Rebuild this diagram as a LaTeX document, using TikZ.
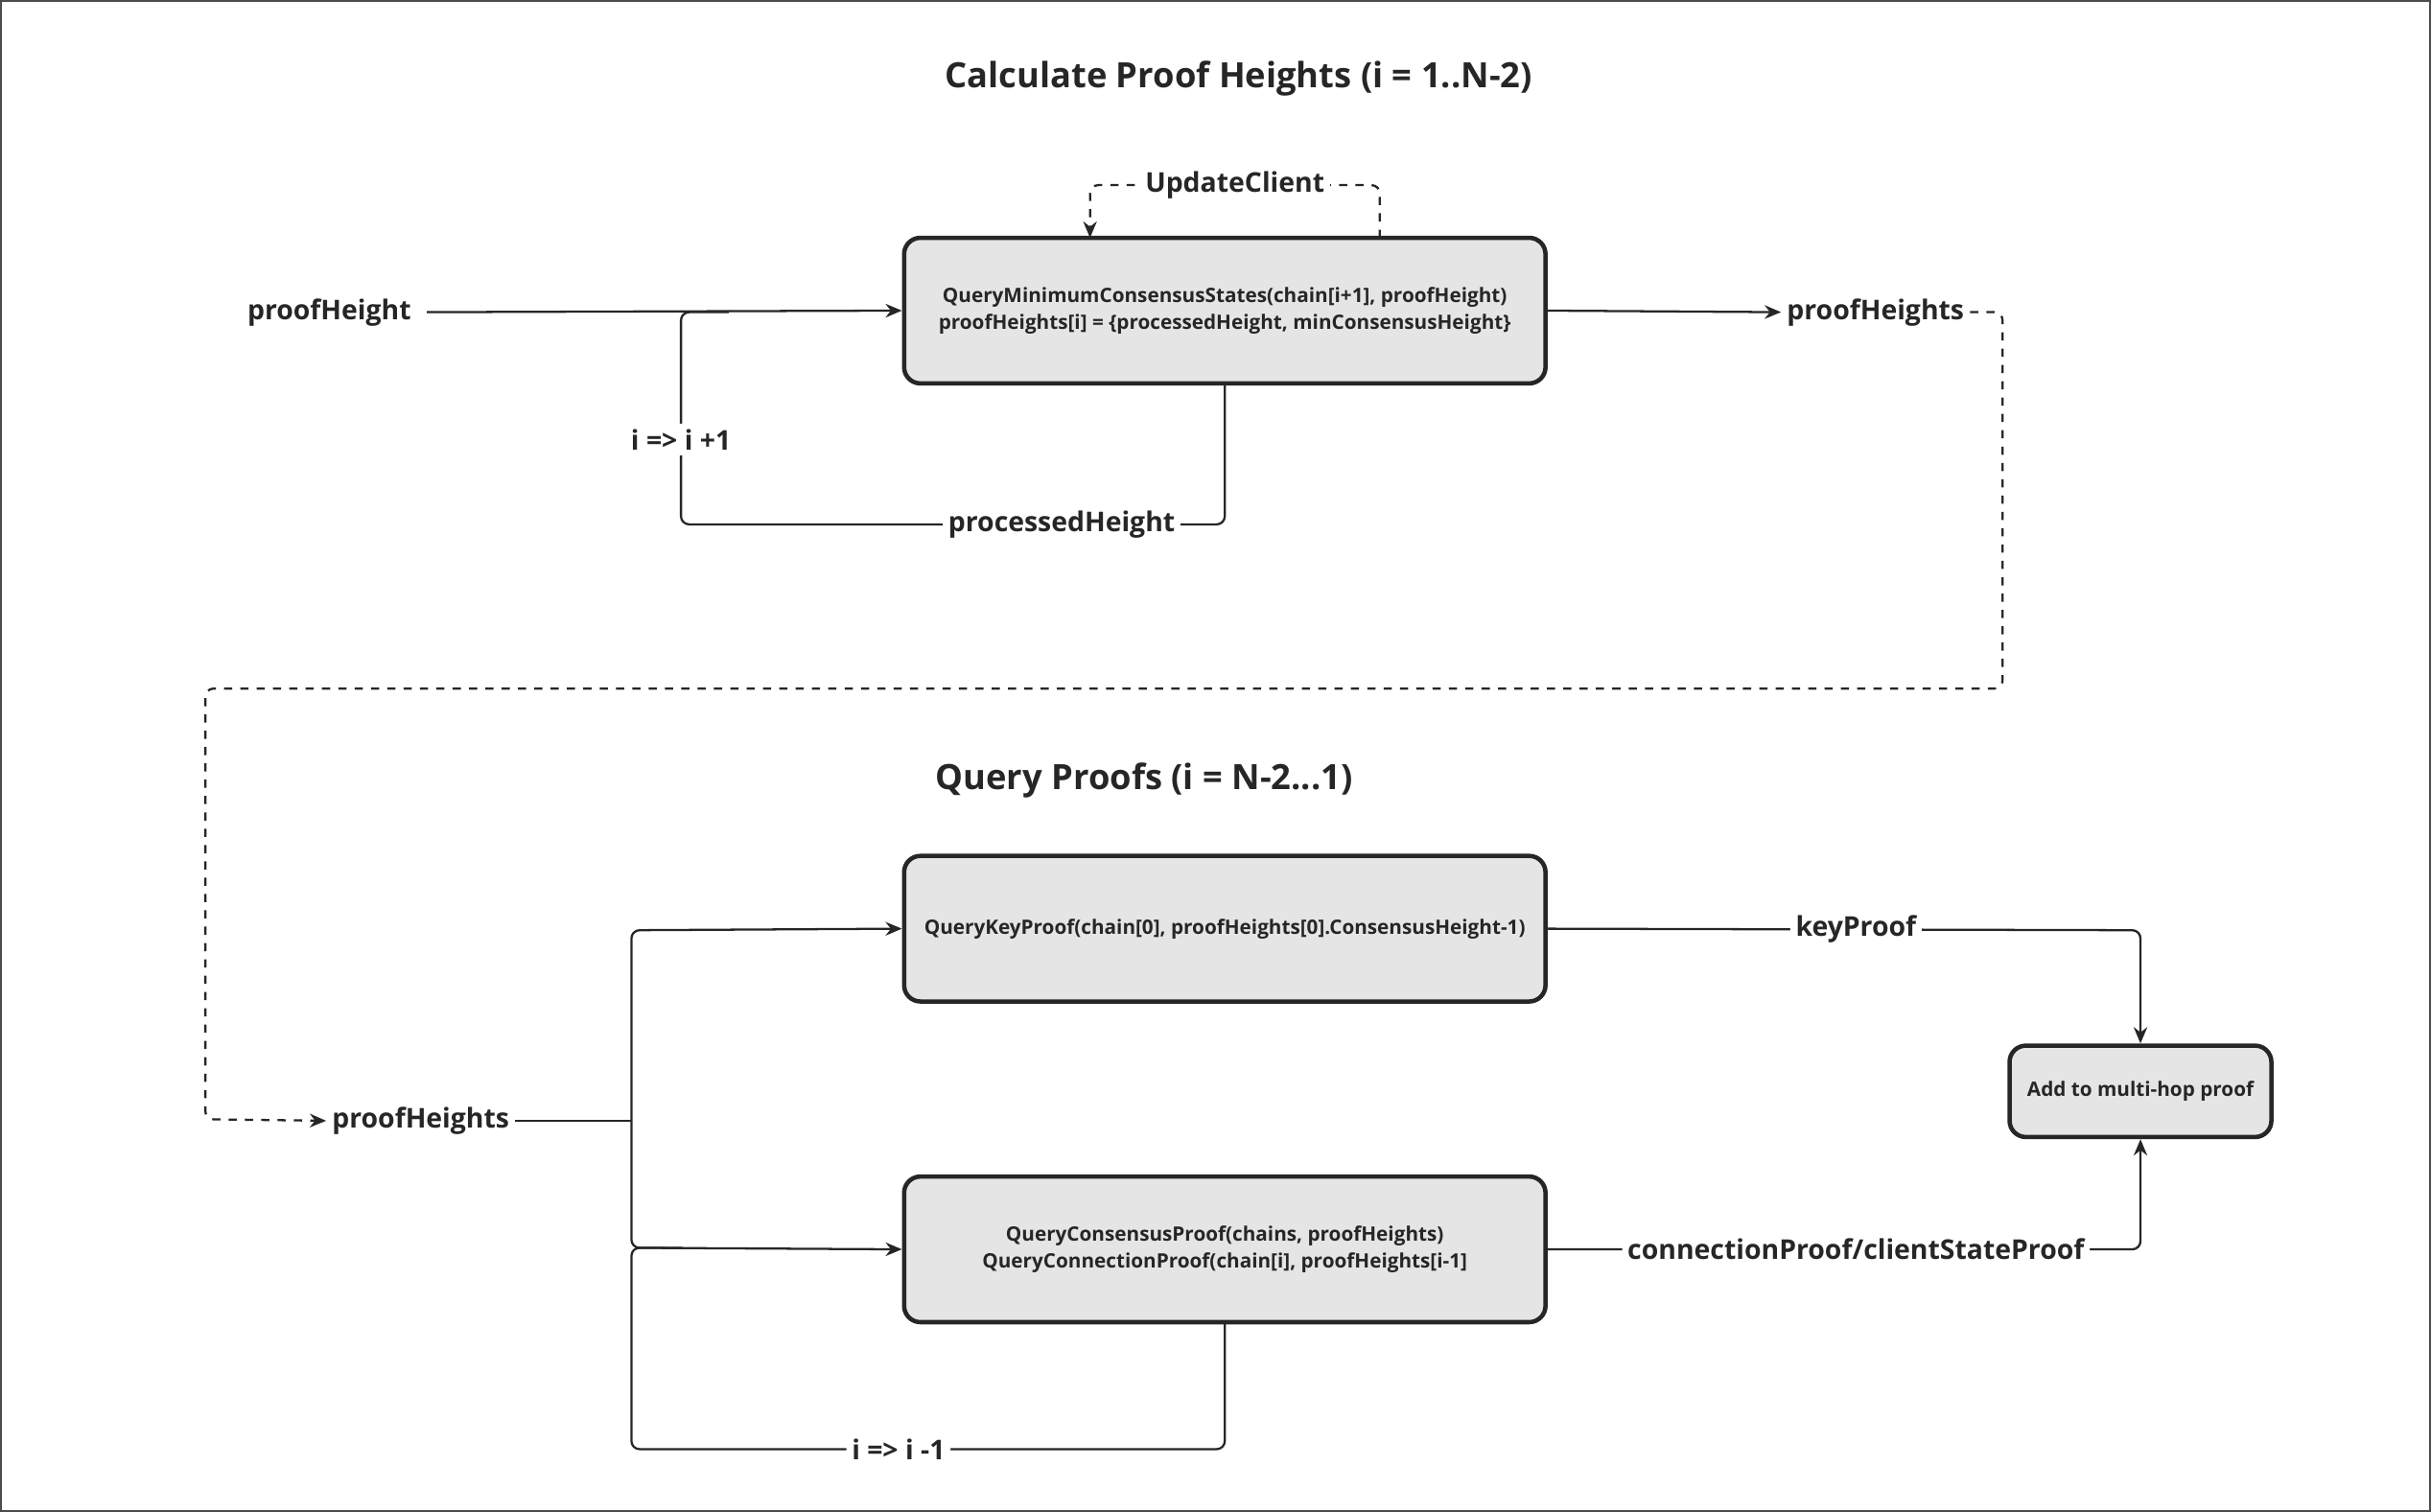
\documentclass[tikz,border=0pt]{standalone}
\usepackage{fontspec}
\setmainfont{Open Sans}
\usetikzlibrary{arrows.meta}
\definecolor{ink}{HTML}{262626}
\begin{document}
\begin{tikzpicture}[x=0.02cm,y=-0.02cm,
  box/.style={draw=ink,line width=1.6pt,fill=black!10,rounded corners=6pt,align=center,font=\bfseries\fontsize{7.3}{10}\selectfont,text=ink},
  lbl/.style={font=\bfseries\fontsize{10}{12}\selectfont,text=ink,inner sep=2pt},
  ttl/.style={font=\bfseries\fontsize{12.8}{15}\selectfont,text=ink},
  con/.style={draw=ink,line width=0.8pt,rounded corners=3pt},
  arr/.style={con,-{Stealth[length=6pt,width=5pt]}},
  dsh/.style={arr,dashed}]
\draw[black!70,line width=0.6pt] (0,0) rectangle (1568,975);
\useasboundingbox (0,0) rectangle (1568,975);
\node[ttl] (t1) at (799,50) {Calculate Proof Heights (i = 1..N-2)};
\node[ttl] (t2) at (738,503) {Query Proofs (i = N-2...1)};
\node[box,minimum width=414*0.02cm,minimum height=94*0.02cm] (b1) at (790,200) {QueryMinimumConsensusStates(chain[i+1], proofHeight)\\proofHeights[i] = \{processedHeight, minConsensusHeight\}};
\node[box,minimum width=414*0.02cm,minimum height=94*0.02cm] (b2) at (790,599) {QueryKeyProof(chain[0], proofHeights[0].ConsensusHeight-1)};
\node[box,minimum width=414*0.02cm,minimum height=94*0.02cm] (b3) at (790,806) {QueryConsensusProof(chains, proofHeights)\\QueryConnectionProof(chain[i], proofHeights[i-1]};
\node[box,minimum width=169*0.02cm,minimum height=59*0.02cm] (b4) at (1381,704) {Add to multi-hop proof};
\node[lbl] (ph) at (212,201) {proofHeight};
\node[lbl] (phs1) at (1210,201) {proofHeights};
\node[lbl] (phs2) at (271,723) {proofHeights};
\coordinate (u1) at (890,153); \coordinate (u2) at (703,153);
\draw[dsh] (u1) -- (890,119) -- node[lbl,fill=white]{UpdateClient} (703,119) -- (u2);
\draw[arr] (275,201) -- (b1.west);
\draw[con] (790,247) -- (790,338) -- node[lbl,fill=white,pos=0.3]{processedHeight} (439,338) -- node[lbl,fill=white,pos=0.4]{i => i +1} (439,201) -- (470,201);
\draw[arr] (b1.east) -- (phs1.west);
\draw[dsh] (phs1.east) -- (1292,201) -- (1292,444) -- (132,444) -- (132,722) -- (phs2.west);
\draw[con] (phs2.east) -- (407,723);
\draw[arr] (407,723) -- (407,600) -- (b2.west);
\draw[arr] (407,723) -- (407,805) -- (b3.west);
\draw[con] (790,853) -- (790,935) -- node[lbl,fill=white,pos=0.55]{i => i -1} (407,935) -- (407,805) -- (440,805);
\draw[arr] (b2.east) -- node[lbl,fill=white,pos=0.52]{keyProof} (1381,600) -- (b4.north);
\draw[arr] (b3.east) -- node[lbl,fill=white,pos=0.52]{connectionProof/clientStateProof} (1381,806) -- (b4.south);
\end{tikzpicture}
\end{document}
